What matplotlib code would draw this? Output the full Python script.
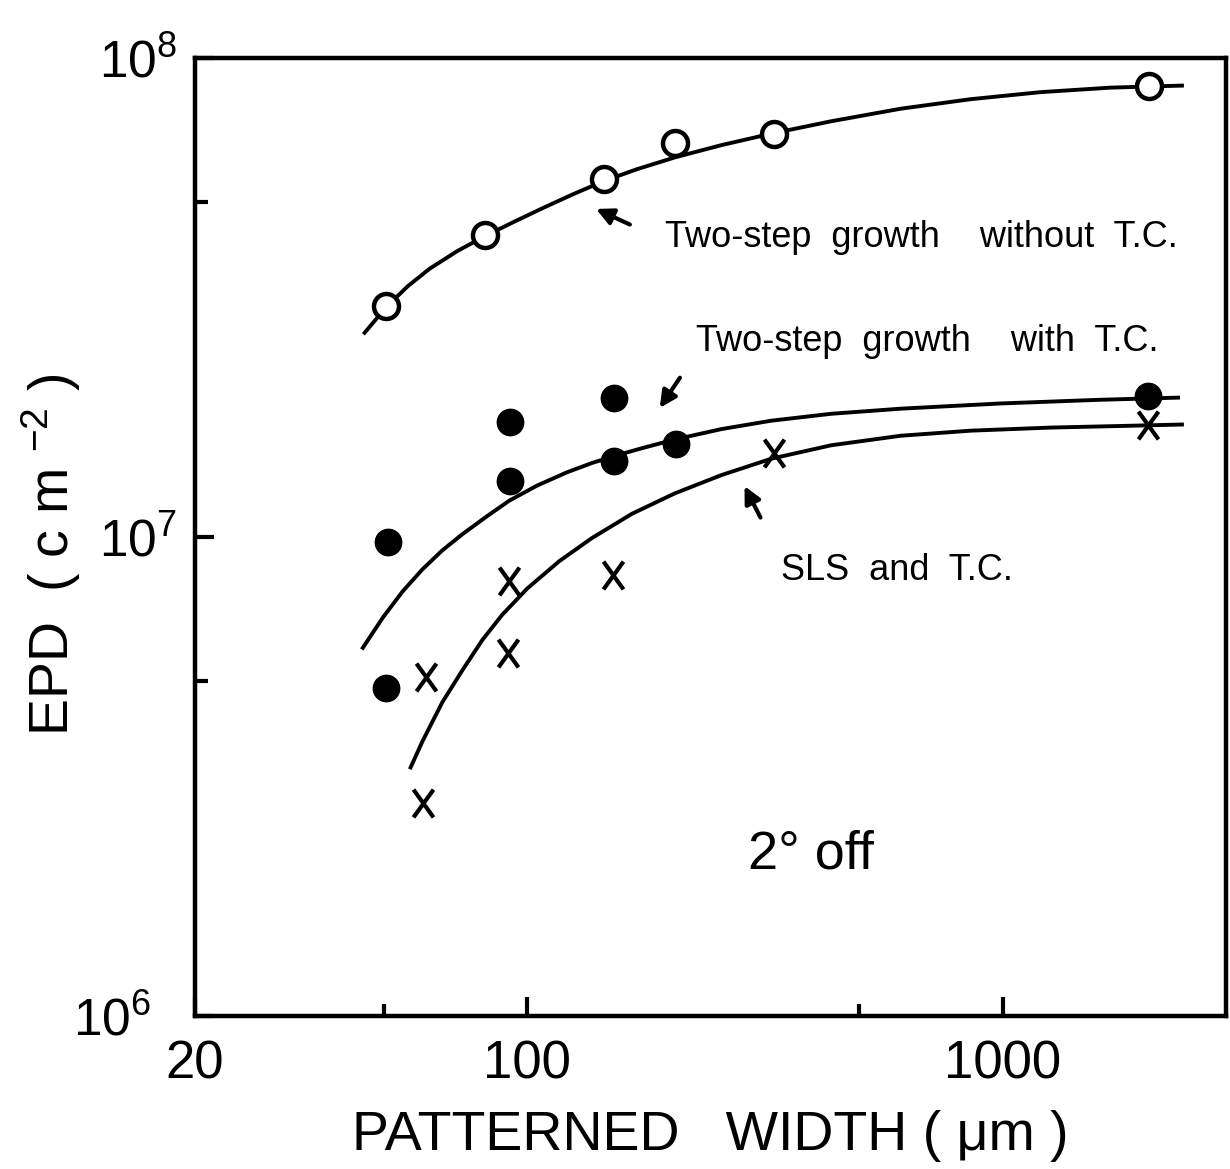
import matplotlib
matplotlib.use('Agg')
import matplotlib.pyplot as plt
from matplotlib import font_manager
from matplotlib.path import Path
from matplotlib.ticker import NullFormatter
from matplotlib.transforms import ScaledTranslation

# ---- data ----
# two-step growth without T.C. (open circles)
open_w = [50.4, 81.6, 145, 205, 330, 2030]
open_epd = [3.03e7, 4.26e7, 5.6e7, 6.64e7, 6.93e7, 8.73e7]

# two-step growth with T.C. (filled circles)
fill_w = [50.4, 50.9, 92.1, 92.1, 152, 152.5, 206, 2023]
fill_epd = [4.85e6, 9.78e6, 1.74e7, 1.31e7, 1.95e7, 1.44e7, 1.56e7, 1.97e7]

# SLS and T.C. (crosses)
cross_w = [61.1, 60.3, 91.7, 91.3, 151.5, 330, 2026]
cross_epd = [5.09e6, 2.79e6, 8.11e6, 5.73e6, 8.34e6, 1.50e7, 1.71e7]

# hand drawn guide curves
curve1_w = [45.5, 50.4, 56.0, 62.3, 71.3, 81.7, 93.9, 107.5, 124.2, 145.0, 170.1,
            204.3, 256.4, 329.5, 435.9, 611.0, 856.7, 1201, 1684, 2384]
curve1_epd = [2.669e7, 3.012e7, 3.335e7, 3.630e7, 3.954e7, 4.253e7, 4.552e7, 4.853e7,
              5.183e7, 5.536e7, 5.858e7, 6.200e7, 6.579e7, 6.966e7, 7.377e7, 7.837e7,
              8.203e7, 8.485e7, 8.671e7, 8.757e7]

curve2_w = [45.1, 49.7, 54.7, 60.2, 66.3, 73.1, 82.5, 91.7, 105, 121.3, 136.8, 152.9,
            174.2, 204.3, 256.4, 326.3, 435.9, 611.0, 990.4, 1605, 2339]
curve2_epd = [5.87e6, 6.79e6, 7.70e6, 8.56e6, 9.38e6, 1.014e7, 1.107e7, 1.191e7,
              1.281e7, 1.365e7, 1.427e7, 1.477e7, 1.532e7, 1.598e7, 1.680e7, 1.749e7,
              1.808e7, 1.853e7, 1.900e7, 1.934e7, 1.954e7]

curve3_w = [56.85, 60.2, 66.3, 73.1, 80.5, 88.6, 100, 116.7, 136.8, 166.1, 204.3,
            256.4, 326.3, 435.9, 611.0, 856.7, 1261, 1768, 2384]
curve3_epd = [3.303e6, 3.745e6, 4.520e6, 5.275e6, 6.099e6, 6.880e6, 7.805e6, 8.897e6,
              9.948e6, 1.118e7, 1.233e7, 1.347e7, 1.457e7, 1.554e7, 1.627e7, 1.667e7,
              1.692e7, 1.705e7, 1.717e7]

xticks = [20, 100, 1000]
xticklabels = ['20', '100', '1000']
yticks = [1e6, 1e7, 1e8]
yticklabels = ['$10^{6}$', '$10^{7}$', '$10^{8}$']

# fonts
names = {f.name for f in font_manager.fontManager.ttflist}
narrow = 'Liberation Sans Narrow' if 'Liberation Sans Narrow' in names else 'Liberation Sans'
plt.rcParams['font.family'] = [narrow, 'DejaVu Sans']
plt.rcParams['mathtext.fontset'] = 'custom'
plt.rcParams['mathtext.rm'] = narrow
plt.rcParams['mathtext.it'] = narrow
plt.rcParams['mathtext.sf'] = narrow

fig = plt.figure(figsize=(12.3, 11.69), dpi=100)
ax = fig.add_axes([0.1585, 0.1309, 0.8382, 0.8195])

ax.plot(curve1_w, curve1_epd, 'k-', lw=2.8, zorder=2)
ax.plot(curve2_w, curve2_epd, 'k-', lw=2.8, zorder=2)
ax.plot(curve3_w, curve3_epd, 'k-', lw=2.8, zorder=2)

xmark = Path([(-0.36, -0.5), (0.36, 0.5), (-0.36, 0.5), (0.36, -0.5)],
             [Path.MOVETO, Path.LINETO, Path.MOVETO, Path.LINETO])

ax.plot(open_w, open_epd, 'o', ms=18, mfc='white', mec='k', mew=3.2, ls='none', zorder=3)
ax.plot(fill_w, fill_epd, 'o', ms=19, mfc='k', mec='k', ls='none', zorder=3)
ax.plot(cross_w, cross_epd, marker=xmark, ms=20, mec='k', mew=3.0, ls='none', zorder=3)

ax.set_xscale('log')
ax.set_yscale('log')
ax.set_xlim(20, 2950)
ax.set_ylim(1e6, 1e8)

ax.set_xticks(xticks)
ax.set_xticklabels(xticklabels, fontsize=38)
ax.set_xticks([50, 500], minor=True)
ax.xaxis.set_minor_formatter(NullFormatter())
ax.set_yticks(yticks)
ax.set_yticklabels(yticklabels, fontsize=37)
ax.set_yticks([5e6, 5e7], minor=True)
ax.yaxis.set_minor_formatter(NullFormatter())
ax.tick_params(which='both', direction='in', top=False, right=False, width=3)
ax.tick_params(which='major', length=14)
ax.tick_params(axis='x', which='major', pad=17)
ax.tick_params(axis='y', which='major', pad=13)
ax.tick_params(which='minor', length=9)
for s in ax.spines.values():
    s.set_linewidth(3.2)

# the 10^6 label sits further left, clear of the "20"
lbl = ax.yaxis.get_major_ticks()[0].label1
lbl.set_transform(lbl.get_transform() + ScaledTranslation(-0.26, 0, fig.dpi_scale_trans))

ax.set_xlabel('PATTERNED   WIDTH ( \u03bcm )', fontsize=40, family='Liberation Sans')
ax.set_ylabel('EPD  ( c m $^{-2}$ )', fontsize=40, family='Liberation Sans')
ax.xaxis.set_label_coords(0.5, -0.098)
ax.yaxis.set_label_coords(-0.109, 0.481)

# labels and arrows
tkw = dict(fontsize=26, family='Liberation Sans', va='baseline', ha='left')
ax.text(194.5, 4.04e7, 'Two-step  growth    without  T.C.', **tkw)
ax.text(227, 2.45e7, 'Two-step  growth    with  T.C.', **tkw)
ax.text(342, 8.15e6, 'SLS  and  T.C.', **tkw)
ax.text(292, 2.03e6, '2\u00b0 off', fontsize=39, va='baseline', ha='left')

akw = dict(arrowstyle='-|>', lw=3, color='k', mutation_scale=25, shrinkA=0, shrinkB=0)
ax.annotate('', xy=(139.6, 4.84e7), xytext=(164.4, 4.49e7), arrowprops=akw)
ax.annotate('', xy=(190, 1.86e7), xytext=(209.5, 2.15e7), arrowprops=akw)
ax.annotate('', xy=(286.5, 1.277e7), xytext=(309.5, 1.098e7), arrowprops=akw)

fig.savefig('out.png', dpi=100, facecolor='white')
